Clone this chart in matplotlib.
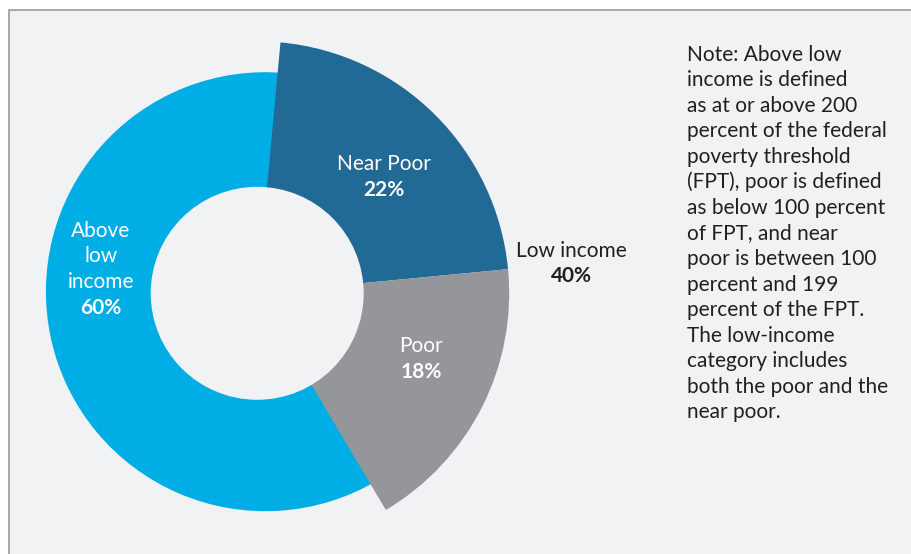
import matplotlib
matplotlib.use("Agg")
import matplotlib.pyplot as plt
from matplotlib.patches import Circle, Rectangle

# parts de la population par revenu (%)
categories = ["Near Poor", "Poor", "Above low income"]
valeurs = [22, 18, 60]
couleurs = ["#226a96", "#95969a", "#00ade5"]

note = [
    "Note: Above low",
    "income is defined",
    "as at or above 200",
    "percent of the federal",
    "poverty threshold",
    "(FPT), poor is defined",
    "as below 100 percent",
    "of FPT, and near",
    "poor is between 100",
    "percent and 199",
    "percent of the FPT.",
    "The low-income",
    "category includes",
    "both the poor and the",
    "near poor.",
]

fond = "#f1f2f4"
H = 554

plt.rcParams["font.family"] = ["Lato", "DejaVu Sans"]

fig = plt.figure(figsize=(9.11, 5.54), dpi=100, facecolor="white")
ax = fig.add_axes([0, 0, 1, 1])

# camembert : les tranches "low income" sortent plus loin que l'autre
wedges, _ = ax.pie(valeurs, colors=couleurs, startangle=84.7, counterclock=False,
                   radius=252, center=(257.2, H - 293.3),
                   wedgeprops=dict(linewidth=0))
wedges[2].set_radius(219.5)
wedges[2].set_center((265.4, H - 291.7))
wedges[2].set_zorder(1)
wedges[0].set_zorder(2)
wedges[1].set_zorder(2)

# pie() impose ses propres limites, on les remet en pixels
ax.set_xlim(0, 911)
ax.set_ylim(0, H)
ax.set_aspect("equal")
ax.set_axis_off()

# panneau gris avec bordure
ax.add_patch(Rectangle((8.5, -5), 910, H - 9.5 + 5, facecolor=fond,
                       edgecolor="#9b9b9b", linewidth=1.2, zorder=0))

# trou du donut
ax.add_patch(Circle((257.2, H - 293.3), 106.5, facecolor=fond, edgecolor="none", zorder=3))

fs = 15
blanc = "white"

def etiquette(x, y, lignes, pct, couleur):
    for i, l in enumerate(lignes):
        ax.text(x, H - (y + i * 25.5), l, color=couleur, fontsize=fs,
                ha="center", va="baseline", zorder=5)
    ax.text(x, H - (y + len(lignes) * 25.5), "{}%".format(pct), color=couleur,
            fontsize=fs, fontweight="bold", ha="center", va="baseline", zorder=5)

etiquette(384, 170, ["Near Poor"], valeurs[0], blanc)
etiquette(421, 352, ["Poor"], valeurs[1], blanc)
etiquette(101, 237, ["Above", "low", "income"], valeurs[2], blanc)
etiquette(571, 257, ["Low income"], valeurs[0] + valeurs[1], "#231f20")

# note a droite
for i, l in enumerate(note):
    ax.text(687, H - (60.7 + i * 25.55), l, color="#231f20", fontsize=fs,
            ha="left", va="baseline")

fig.savefig("out.png", dpi=100, facecolor="white")
